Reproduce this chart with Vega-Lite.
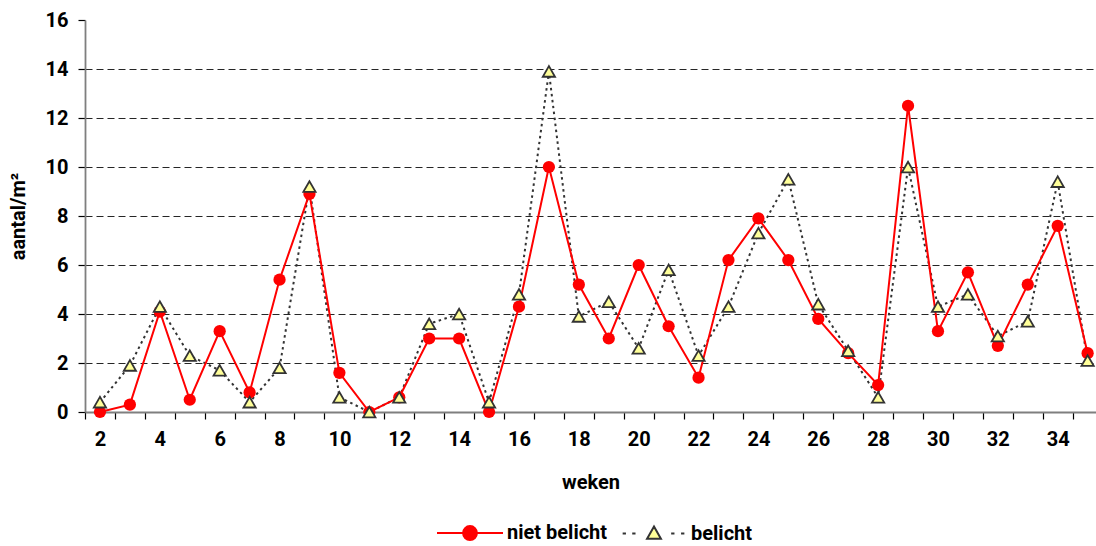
{
  "$schema": "https://vega.github.io/schema/vega-lite/v6.json",
  "width": 1011,
  "height": 392,
  "autosize": {"type": "none"},
  "padding": {"left": 85, "top": 20, "right": 0, "bottom": 134},
  "background": "white",
  "config": {
    "view": {"stroke": null},
    "font": "Roboto",
    "axis": {
      "labelFont": "Roboto", "labelFontWeight": "bold", "labelFontSize": 20, "labelColor": "#000",
      "titleFont": "Roboto", "titleFontWeight": "bold", "titleFontSize": 20, "titleColor": "#000",
      "domainColor": "#7f7f7f", "domainWidth": 1.8, "tickColor": "#000", "tickWidth": 1.2
    }
  },
  "data": {
    "values": [
      {"week": 2, "series": "niet belicht", "value": 0},
      {"week": 3, "series": "niet belicht", "value": 0.3},
      {"week": 4, "series": "niet belicht", "value": 4.1},
      {"week": 5, "series": "niet belicht", "value": 0.5},
      {"week": 6, "series": "niet belicht", "value": 3.3},
      {"week": 7, "series": "niet belicht", "value": 0.8},
      {"week": 8, "series": "niet belicht", "value": 5.4},
      {"week": 9, "series": "niet belicht", "value": 8.9},
      {"week": 10, "series": "niet belicht", "value": 1.6},
      {"week": 11, "series": "niet belicht", "value": 0},
      {"week": 12, "series": "niet belicht", "value": 0.6},
      {"week": 13, "series": "niet belicht", "value": 3.0},
      {"week": 14, "series": "niet belicht", "value": 3.0},
      {"week": 15, "series": "niet belicht", "value": 0},
      {"week": 16, "series": "niet belicht", "value": 4.3},
      {"week": 17, "series": "niet belicht", "value": 10.0},
      {"week": 18, "series": "niet belicht", "value": 5.2},
      {"week": 19, "series": "niet belicht", "value": 3.0},
      {"week": 20, "series": "niet belicht", "value": 6.0},
      {"week": 21, "series": "niet belicht", "value": 3.5},
      {"week": 22, "series": "niet belicht", "value": 1.4},
      {"week": 23, "series": "niet belicht", "value": 6.2},
      {"week": 24, "series": "niet belicht", "value": 7.9},
      {"week": 25, "series": "niet belicht", "value": 6.2},
      {"week": 26, "series": "niet belicht", "value": 3.8},
      {"week": 27, "series": "niet belicht", "value": 2.4},
      {"week": 28, "series": "niet belicht", "value": 1.1},
      {"week": 29, "series": "niet belicht", "value": 12.5},
      {"week": 30, "series": "niet belicht", "value": 3.3},
      {"week": 31, "series": "niet belicht", "value": 5.7},
      {"week": 32, "series": "niet belicht", "value": 2.7},
      {"week": 33, "series": "niet belicht", "value": 5.2},
      {"week": 34, "series": "niet belicht", "value": 7.6},
      {"week": 35, "series": "niet belicht", "value": 2.4},
      {"week": 2, "series": "belicht", "value": 0.4},
      {"week": 3, "series": "belicht", "value": 1.9},
      {"week": 4, "series": "belicht", "value": 4.3},
      {"week": 5, "series": "belicht", "value": 2.3},
      {"week": 6, "series": "belicht", "value": 1.7},
      {"week": 7, "series": "belicht", "value": 0.4},
      {"week": 8, "series": "belicht", "value": 1.8},
      {"week": 9, "series": "belicht", "value": 9.2},
      {"week": 10, "series": "belicht", "value": 0.6},
      {"week": 11, "series": "belicht", "value": 0},
      {"week": 12, "series": "belicht", "value": 0.6},
      {"week": 13, "series": "belicht", "value": 3.6},
      {"week": 14, "series": "belicht", "value": 4.0},
      {"week": 15, "series": "belicht", "value": 0.4},
      {"week": 16, "series": "belicht", "value": 4.8},
      {"week": 17, "series": "belicht", "value": 13.9},
      {"week": 18, "series": "belicht", "value": 3.9},
      {"week": 19, "series": "belicht", "value": 4.5},
      {"week": 20, "series": "belicht", "value": 2.6},
      {"week": 21, "series": "belicht", "value": 5.8},
      {"week": 22, "series": "belicht", "value": 2.3},
      {"week": 23, "series": "belicht", "value": 4.3},
      {"week": 24, "series": "belicht", "value": 7.3},
      {"week": 25, "series": "belicht", "value": 9.5},
      {"week": 26, "series": "belicht", "value": 4.4},
      {"week": 27, "series": "belicht", "value": 2.5},
      {"week": 28, "series": "belicht", "value": 0.6},
      {"week": 29, "series": "belicht", "value": 10.0},
      {"week": 30, "series": "belicht", "value": 4.3},
      {"week": 31, "series": "belicht", "value": 4.8},
      {"week": 32, "series": "belicht", "value": 3.1},
      {"week": 33, "series": "belicht", "value": 3.7},
      {"week": 34, "series": "belicht", "value": 9.4},
      {"week": 35, "series": "belicht", "value": 2.1}
    ]
  },
  "encoding": {
    "x": {
      "field": "week", "type": "quantitative",
      "scale": {"domain": [1.5, 35.28], "nice": false, "zero": false},
      "axis": {
        "title": "weken",
        "values": [2,3,4,5,6,7,8,9,10,11,12,13,14,15,16,17,18,19,20,21,22,23,24,25,26,27,28,29,30,31,32,33,34,35],
        "labelExpr": "datum.value % 2 == 0 ? datum.label : ''",
        "labelOverlap": false,
        "tickOffset": -15,
        "labelOffset": 15,
        "tickSize": 7,
        "labelPadding": 10,
        "titlePadding": 23,
        "grid": false
      }
    },
    "y": {
      "field": "value", "type": "quantitative",
      "scale": {"domain": [0, 16], "nice": false},
      "axis": {
        "title": "aantal/m²",
        "values": [0,2,4,6,8,10,12,14,16],
        "tickSize": 7,
        "labelPadding": 10,
        "titlePadding": 17,
        "grid": true,
        "gridColor": "#000",
        "gridDash": [7, 4],
        "gridWidth": 1,
        "gridOpacity": {"condition": {"test": "datum.value == 0 || datum.value == 16", "value": 0}, "value": 0.85}
      }
    }
  },
  "layer": [
    {
      "transform": [{"filter": "datum.series === 'belicht'"}],
      "mark": {"type": "line", "strokeWidth": 2, "stroke": "#333333", "strokeDash": [2.5, 3.5]}
    },
    {
      "transform": [{"filter": "datum.series === 'niet belicht'"}],
      "mark": {"type": "line", "strokeWidth": 2},
      "encoding": {
        "color": {
          "field": "series", "type": "nominal",
          "scale": {"domain": ["niet belicht", "belicht"], "range": ["#FF0000", "#333333"]},
          "legend": {
            "title": null,
            "orient": "none",
            "direction": "horizontal",
            "legendX": 351,
            "legendY": 479,
            "symbolSize": 4356,
            "labelFont": "Roboto",
            "labelFontWeight": "bold",
            "labelFontSize": 20,
            "labelColor": "#000",
            "labelOffset": 3,
            "columnPadding": 10,
            "encode": {
              "symbols": {
                "update": {
                  "shape": {"signal": "datum.value === 'niet belicht' ? 'M-1,0H1M0.21,0A0.21,0.21 0 1,1 -0.21,0A0.21,0.21 0 1,1 0.21,0Z' : 'M-0.95,0H-0.85M-0.66,0H-0.56M0.52,0H0.62M0.82,0H0.92M0,-0.21L0.21,0.16L-0.21,0.16Z'"},
                  "fill": {"signal": "datum.value === 'niet belicht' ? '#FF0000' : '#FFFF99'"},
                  "stroke": {"signal": "datum.value === 'niet belicht' ? '#FF0000' : '#333333'"},
                  "size": {"value": 4356},
                  "strokeWidth": {"value": 2},
                  "opacity": {"value": 1},
                  "fillOpacity": {"value": 1},
                  "strokeOpacity": {"value": 1}
                }
              }
            }
          }
        }
      }
    },
    {
      "transform": [{"filter": "datum.series === 'niet belicht'"}],
      "mark": {"type": "point", "shape": "circle", "filled": true, "color": "#FF0000", "size": 150, "opacity": 1}
    },
    {
      "transform": [{"filter": "datum.series === 'belicht'"}],
      "mark": {"type": "point", "shape": "triangle-up", "filled": true, "fill": "#FFFF99", "stroke": "#333333", "strokeWidth": 1.8, "size": 150, "opacity": 1}
    }
  ]
}
